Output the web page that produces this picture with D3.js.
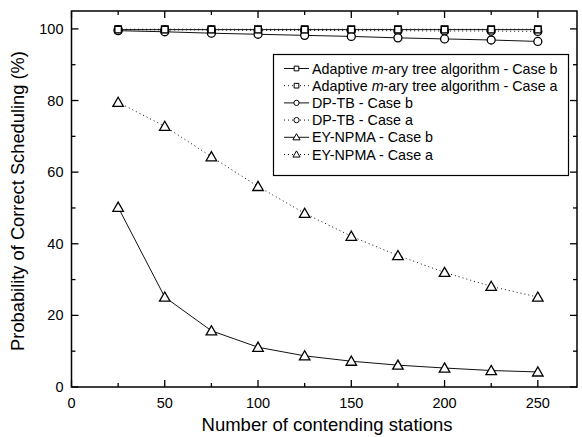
<!DOCTYPE html>
<html lang="en">
<head>
<meta charset="utf-8">
<title>Probability of Correct Scheduling</title>
<script src="https://d3js.org/d3.v7.min.js"></script>
<style>
body { margin: 0; background: #fff; }
text { font-family: "Liberation Sans", Arial, sans-serif; fill: #000; }
</style>
</head>
<body>
<script>
var stations = [25, 50, 75, 100, 125, 150, 175, 200, 225, 250];

var mtreeB = [99.8, 99.8, 99.8, 99.8, 99.8, 99.8, 99.8, 99.8, 99.8, 99.8];
var mtreeA = [99.9, 99.9, 99.9, 99.9, 99.9, 99.9, 99.9, 99.9, 99.9, 99.9];
var dptbB = [99.5, 99.2, 98.8, 98.5, 98.2, 97.9, 97.5, 97.2, 96.9, 96.5];
var dptbA = [99.8, 99.7, 99.7, 99.6, 99.6, 99.5, 99.5, 99.4, 99.4, 99.3];
var eyB = [50.2, 25.1, 15.7, 11.1, 8.7, 7.2, 6.1, 5.3, 4.6, 4.2];
var eyA = [79.5, 72.8, 64.3, 56.0, 48.5, 42.1, 36.7, 32.0, 28.1, 25.1];

var xTicks = [0, 50, 100, 150, 200, 250];
var yTicks = [0, 20, 40, 60, 80, 100];

var series = [
  {name: "Adaptive m-ary tree algorithm - Case b", values: mtreeB, marker: "square", dotted: false},
  {name: "Adaptive m-ary tree algorithm - Case a", values: mtreeA, marker: "square", dotted: true},
  {name: "DP-TB - Case b", values: dptbB, marker: "circle", dotted: false},
  {name: "DP-TB - Case a", values: dptbA, marker: "circle", dotted: true},
  {name: "EY-NPMA - Case b", values: eyB, marker: "triangle", dotted: false},
  {name: "EY-NPMA - Case a", values: eyA, marker: "triangle", dotted: true}
];

var width = 582, height = 437;
var margin = {top: 11, right: 5, bottom: 50, left: 71.5};

var svg = d3.select("body").append("svg")
  .attr("width", width)
  .attr("height", height);

var x = d3.scaleLinear().domain([0, 271]).range([margin.left, width - margin.right]);
var y = d3.scaleLinear().domain([0, 105]).range([height - margin.bottom, margin.top]);

// markers
var symbols = {
  square: d3.symbol().type(d3.symbolSquare).size(42),
  circle: d3.symbol().type(d3.symbolCircle).size(50),
  triangle: d3.symbol().type(d3.symbolTriangle).size(48)
};

function drawMarker(g, type, cx, cy) {
  g.append("path")
    .attr("d", symbols[type]())
    .attr("transform", "translate(" + cx + "," + (type === "triangle" ? cy + 1 : cy) + ")")
    .attr("fill", "#fff")
    .attr("stroke", "#000")
    .attr("stroke-width", 1.3);
}

// lines + markers (EY first, then DP-TB, then m-ary on top)
var order = [5, 4, 3, 2, 1, 0];
var line = d3.line()
  .x(function(d, i) { return x(stations[i]); })
  .y(function(d) { return y(d); });

order.forEach(function(k) {
  var s = series[k];
  var g = svg.append("g");
  g.append("path")
    .attr("d", line(s.values))
    .attr("fill", "none")
    .attr("stroke", "#111")
    .attr("stroke-width", 1)
    .attr("stroke-dasharray", s.dotted ? "1,3" : null);
  s.values.forEach(function(v, i) {
    drawMarker(g, s.marker, x(stations[i]), y(v));
  });
});

// frame
svg.append("rect")
  .attr("x", margin.left)
  .attr("y", margin.top)
  .attr("width", width - margin.right - margin.left)
  .attr("height", height - margin.bottom - margin.top)
  .attr("fill", "none")
  .attr("stroke", "#000")
  .attr("stroke-width", 1.5);

// ticks (inward on all four sides)
var xAll = d3.range(0, 275, 25);
var yAll = d3.range(0, 105, 10);
var tk = svg.append("g").attr("stroke", "#000").attr("stroke-width", 1.3);
xAll.forEach(function(v) {
  var len = v % 50 === 0 ? 7 : 4;
  tk.append("line").attr("x1", x(v)).attr("x2", x(v))
    .attr("y1", y(0)).attr("y2", y(0) - len);
  tk.append("line").attr("x1", x(v)).attr("x2", x(v))
    .attr("y1", margin.top).attr("y2", margin.top + len);
});
yAll.forEach(function(v) {
  var len = v % 20 === 0 ? 7 : 4;
  tk.append("line").attr("x1", margin.left).attr("x2", margin.left + len)
    .attr("y1", y(v)).attr("y2", y(v));
  tk.append("line").attr("x1", width - margin.right).attr("x2", width - margin.right - len)
    .attr("y1", y(v)).attr("y2", y(v));
});

// tick labels
svg.append("g").selectAll("text").data(xTicks).join("text")
  .attr("x", function(d) { return x(d); })
  .attr("y", y(0) + 21)
  .attr("text-anchor", "middle")
  .attr("font-size", 14.5)
  .text(function(d) { return d; });

svg.append("g").selectAll("text").data(yTicks).join("text")
  .attr("x", margin.left - 8)
  .attr("y", function(d) { return y(d) + 5; })
  .attr("text-anchor", "end")
  .attr("font-size", 14.5)
  .text(function(d) { return d; });

// axis titles
svg.append("text")
  .attr("x", 327)
  .attr("y", 431)
  .attr("text-anchor", "middle")
  .attr("font-size", 18.5)
  .text("Number of contending stations");

svg.append("text")
  .attr("transform", "translate(24," + 201 + ") rotate(-90)")
  .attr("text-anchor", "middle")
  .attr("font-size", 18.3)
  .text("Probability of Correct Scheduling (%)");

// legend
var lg = svg.append("g");
lg.append("rect")
  .attr("x", 273.5).attr("y", 54.5)
  .attr("width", 295).attr("height", 121)
  .attr("fill", "#fff")
  .attr("stroke", "#000")
  .attr("stroke-width", 1.2);

series.forEach(function(s, i) {
  var cy = 68.5 + i * 17.2;
  lg.append("line")
    .attr("x1", 284).attr("x2", 309)
    .attr("y1", cy).attr("y2", cy)
    .attr("stroke", "#111")
    .attr("stroke-width", 1)
    .attr("stroke-dasharray", s.dotted ? "1,3" : null);
  lg.append("path")
    .attr("d", d3.symbol().type(s.marker === "square" ? d3.symbolSquare : s.marker === "circle" ? d3.symbolCircle : d3.symbolTriangle).size(22)())
    .attr("transform", "translate(296.5," + (s.marker === "triangle" ? cy + 0.5 : cy) + ")")
    .attr("fill", "#fff")
    .attr("stroke", "#000")
    .attr("stroke-width", 1);
  var t = lg.append("text")
    .attr("x", 312)
    .attr("y", cy + 5)
    .attr("font-size", 14.3);
  var parts = s.name.split("m-ary");
  if (parts.length > 1) {
    t.append("tspan").text(parts[0]);
    t.append("tspan").attr("font-style", "italic").text("m");
    t.append("tspan").text("-ary" + parts[1]);
  } else {
    t.text(s.name);
  }
});
</script>
</body>
</html>
